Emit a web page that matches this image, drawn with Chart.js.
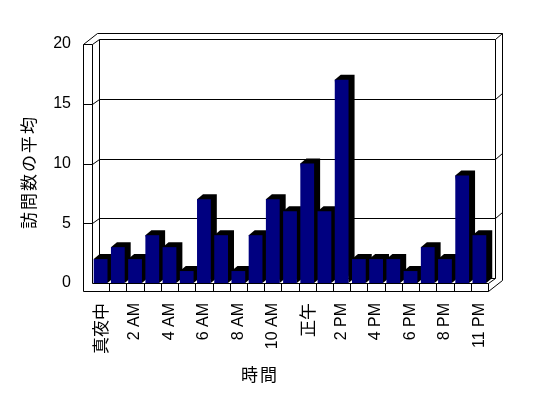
<!DOCTYPE html>
<html><head><meta charset="utf-8">
<script src="https://cdn.jsdelivr.net/npm/chart.js@4/dist/chart.umd.min.js"></script>
<style>html,body{margin:0;padding:0;background:#fff;}canvas{display:block;}</style>
</head><body>
<canvas id="c" width="548" height="398"></canvas>
<script>
const categories = ['真夜中','1 AM','2 AM','3 AM','4 AM','5 AM','6 AM','7 AM','8 AM','9 AM','10 AM','11 AM',
  '正午','1 PM','2 PM','3 PM','4 PM','5 PM','6 PM','7 PM','8 PM','9 PM','11 PM'];
const visits = [2,3,2,4,3,1,7,4,1,4,7,6,10,6,17,2,2,2,1,3,2,9,4];
const yTicks = [0,5,10,15,20];
const gridValues = [5,10,15];
const yTitle = '訪問数の平均';
const xTitle = '時間';

const LATIN = '"Liberation Sans", Arial, sans-serif';
const CJK = '"Noto Sans CJK JP", sans-serif';

// 3D geometry (pixels)
const WX = 9, FY = 8;        // wall / floor thickness on the front
const DX = 6.5, DY = -5;     // plot depth
const WDX = 7, WDY = -6;     // wall depth (back wall thickness)
const BDX = 6, BDY = -5;     // bar depth

function line(ctx, x1, y1, x2, y2) {
  ctx.beginPath();
  ctx.moveTo(x1, y1);
  ctx.lineTo(x2, y2);
  ctx.stroke();
}
const P = v => Math.round(v) + 0.5;

function spacedText(ctx, text, cx, cy, spacing) {
  // draw centered text with extra letter spacing
  const widths = [...text].map(ch => ctx.measureText(ch).width);
  const total = widths.reduce((a, b) => a + b, 0) + spacing * (widths.length - 1);
  let x = cx - total / 2;
  ctx.textAlign = 'left';
  [...text].forEach((ch, i) => {
    ctx.fillText(ch, x, cy);
    x += widths[i] + spacing;
  });
}

const frame3d = {
  id: 'frame3d',
  beforeDatasetsDraw(chart) {
    const ctx = chart.ctx;
    const ca = chart.chartArea;
    const ys = chart.scales.y;
    const L = ca.left, R = ca.right, T = ca.top, B = ca.bottom;
    ctx.save();
    ctx.strokeStyle = '#000';
    ctx.lineWidth = 1;
    // back wall inner plane
    line(ctx, P(L + DX), P(T + DY), P(R + DX), P(T + DY));
    line(ctx, P(L + DX), P(T + DY), P(L + DX), P(B + DY));
    line(ctx, P(R + DX), P(T + DY), P(R + DX), P(B + DY));
    line(ctx, P(L + DX), P(B + DY), P(R + DX), P(B + DY));
    // gridlines
    gridValues.forEach(v => {
      const yf = ys.getPixelForValue(v);
      const yb = yf + DY;
      line(ctx, P(L + DX), P(yb), P(R + DX), P(yb));
      line(ctx, P(L), P(yf), P(L + DX), P(yb));
      line(ctx, P(L - WX), P(yf), P(L), P(yf));
      line(ctx, P(R + DX), P(yb), P(R + DX + WDX), P(yb + WDY));
    });
    // tops
    const ox = L - WX + DX + WDX, oy = T + DY + WDY;
    line(ctx, P(L - WX), P(T), P(ox), P(oy));
    line(ctx, P(ox), P(oy), P(R + DX + WDX), P(oy));
    line(ctx, P(L), P(T), P(L + DX), P(T + DY));
    line(ctx, P(R + DX), P(T + DY), P(R + DX + WDX), P(oy));
    line(ctx, P(R + DX + WDX), P(oy), P(R + DX + WDX), P(B + FY + DY + WDY));
    // floor right side
    line(ctx, P(R), P(B), P(R + DX), P(B + DY));
    line(ctx, P(R), P(B + FY), P(R + DX + WDX), P(B + FY + DY + WDY));
    // floor front face
    line(ctx, P(L), P(B), P(R), P(B));
    line(ctx, P(L - WX), P(B + FY), P(R), P(B + FY));
    line(ctx, P(R), P(B), P(R), P(B + FY));
    // left wall front face
    line(ctx, P(L - WX), P(T), P(L - WX), P(B + FY));
    line(ctx, P(L), P(T), P(L), P(B));
    line(ctx, P(L - WX), P(T), P(L), P(T));
    // category ticks on floor
    const n = categories.length;
    const pitch = (R - L) / n;
    for (let k = 1; k < n; k++) {
      line(ctx, P(L + k * pitch), P(B), P(L + k * pitch), P(B + FY));
    }
    // bar sides and tops
    const meta = chart.getDatasetMeta(0);
    ctx.fillStyle = '#000';
    meta.data.forEach(bar => {
      const p = bar.getProps(['x', 'y', 'base', 'width'], true);
      const l = p.x - p.width / 2, r = p.x + p.width / 2;
      ctx.beginPath();
      ctx.moveTo(l, p.y);
      ctx.lineTo(l + BDX, p.y + BDY);
      ctx.lineTo(r + BDX, p.y + BDY);
      ctx.lineTo(r + BDX, p.base + BDY);
      ctx.lineTo(r, p.base);
      ctx.closePath();
      ctx.fill();
    });
    ctx.restore();
  },
  afterDraw(chart) {
    const ctx = chart.ctx;
    ctx.save();
    ctx.fillStyle = '#000';
    ctx.font = '17px ' + CJK;
    ctx.textBaseline = 'middle';
    spacedText(ctx, xTitle, 259, 375, 2);
    ctx.translate(29, 173);
    ctx.rotate(-Math.PI / 2);
    spacedText(ctx, yTitle, 0, 0, 2);
    ctx.restore();
  }
};

new Chart(document.getElementById('c'), {
  type: 'bar',
  data: {
    labels: categories,
    datasets: [{
      data: visits,
      backgroundColor: '#000080',
      borderWidth: 0,
      barPercentage: 0.8,
      categoryPercentage: 1
    }]
  },
  options: {
    responsive: false,
    animation: false,
    devicePixelRatio: 1,
    layout: { padding: { left: 0, top: 44, right: 60, bottom: 0 } },
    plugins: { legend: { display: false }, tooltip: { enabled: false } },
    scales: {
      x: {
        grid: { display: false, drawTicks: false },
        border: { display: false },
        ticks: {
          autoSkip: false,
          minRotation: 90,
          maxRotation: 90,
          padding: 20,
          color: '#000',
          font: c => /[^\x00-\x7f]/.test(categories[c.index] || '') ?
            { family: CJK, size: 17 } : { family: LATIN, size: 16 },
          callback: (v, i) => (i % 2 === 0 ? categories[i] : '')
        },
        afterFit: s => { s.height = 115; }
      },
      y: {
        min: 0, max: 20,
        afterBuildTicks: s => { s.ticks = yTicks.map(v => ({ value: v })); },
        grid: { display: false, drawTicks: false },
        border: { display: false },
        ticks: { padding: 21, color: '#000', font: { family: LATIN, size: 16 } },
        afterFit: s => { s.width = 92; }
      }
    }
  },
  plugins: [frame3d]
});
</script>
</body></html>
